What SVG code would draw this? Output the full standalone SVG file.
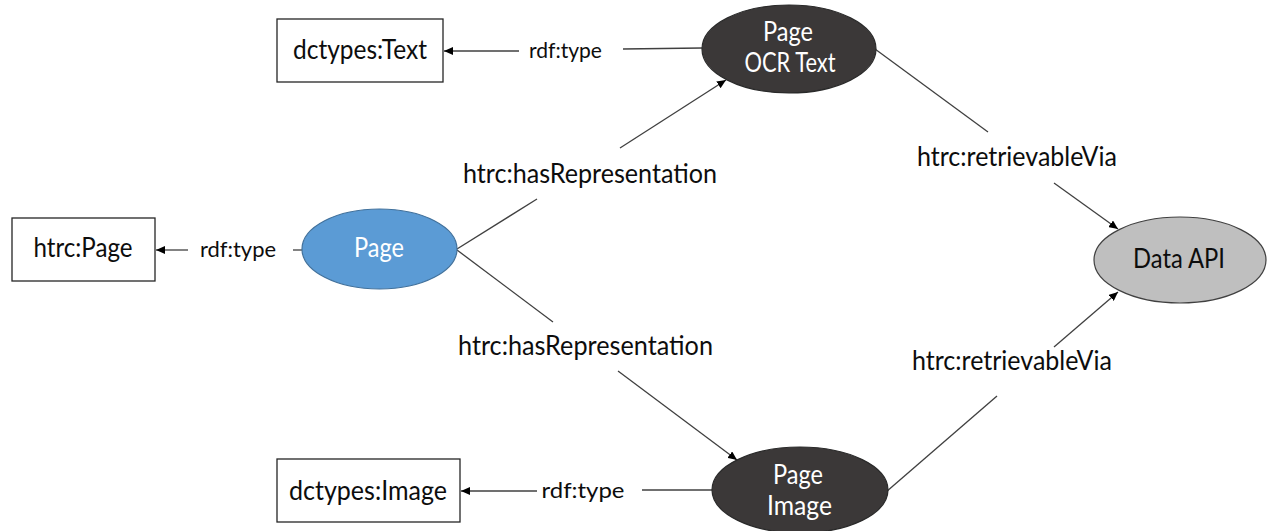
<svg xmlns="http://www.w3.org/2000/svg" width="1267" height="531" viewBox="0 0 1267 531">
<defs>
<marker id="arr" markerUnits="userSpaceOnUse" markerWidth="10" markerHeight="8" refX="9" refY="4" orient="auto">
<path d="M0,0 L9,4 L0,8 z" fill="#000"/>
</marker>
<style>
.box{fill:#fff;stroke:#262626;stroke-width:1.3}
.dark{fill:#3b3838;stroke:#2a2a2a;stroke-width:1.2}
.blue{fill:#5b9bd5;stroke:#41719c;stroke-width:1.2}
.grey{fill:#bfbfbf;stroke:#404040;stroke-width:1.2}
.t{font-family:Lato,"Open Sans","Liberation Sans",sans-serif;fill:#0d0d0d;text-anchor:middle}
.w{fill:#fff}
.c{stroke:#404040;stroke-width:1.3;fill:none}
.a{marker-end:url(#arr)}
</style>
</defs>
<rect width="1267" height="531" fill="#fff"/>
<g id="connectors">
<line class="c" x1="702" y1="48" x2="623" y2="49"/>
<line class="c a" x1="519" y1="51" x2="444" y2="51"/>
<text class="t" x="565.5" y="58" font-size="22" textLength="73" lengthAdjust="spacingAndGlyphs">rdf:type</text>
<line class="c" x1="302" y1="250" x2="293" y2="250"/>
<line class="c a" x1="188" y1="250" x2="156" y2="250"/>
<text class="t" x="238" y="257" font-size="22" textLength="76" lengthAdjust="spacingAndGlyphs">rdf:type</text>
<line class="c" x1="457" y1="249" x2="537" y2="199"/>
<line class="c a" x1="620" y1="148" x2="726" y2="80"/>
<text class="t" x="590" y="183" font-size="26" textLength="254" lengthAdjust="spacingAndGlyphs">htrc:hasRepresentation</text>
<line class="c" x1="457" y1="250" x2="553" y2="322"/>
<line class="c a" x1="618" y1="371" x2="737" y2="460"/>
<text class="t" x="585.5" y="355" font-size="26" textLength="255" lengthAdjust="spacingAndGlyphs">htrc:hasRepresentation</text>
<line class="c" x1="712" y1="490" x2="642" y2="490"/>
<line class="c a" x1="537" y1="491" x2="461" y2="491"/>
<text class="t" x="583" y="498" font-size="22" textLength="83" lengthAdjust="spacingAndGlyphs">rdf:type</text>
<line class="c" x1="875" y1="49" x2="988" y2="132"/>
<line class="c a" x1="1054" y1="183" x2="1118" y2="229"/>
<text class="t" x="1017" y="166" font-size="26" textLength="200" lengthAdjust="spacingAndGlyphs">htrc:retrievableVia</text>
<line class="c" x1="886" y1="492" x2="997" y2="396"/>
<line class="c a" x1="1054" y1="347" x2="1118" y2="292"/>
<text class="t" x="1012" y="370" font-size="26" textLength="200" lengthAdjust="spacingAndGlyphs">htrc:retrievableVia</text>
</g>
<g id="dctypes-text">
<rect class="box" x="277" y="19" width="166" height="63"/>
<text class="t" x="360" y="59" font-size="26" textLength="134" lengthAdjust="spacingAndGlyphs">dctypes:Text</text>
</g>
<g id="page-ocr-text">
<ellipse class="dark" cx="789" cy="49" rx="87" ry="44"/>
<text class="t w" x="788" y="41" font-size="26" textLength="50" lengthAdjust="spacingAndGlyphs">Page</text>
<text class="t w" x="790" y="72" font-size="26" textLength="91" lengthAdjust="spacingAndGlyphs">OCR Text</text>
</g>
<g id="htrc-page">
<rect class="box" x="12" y="218" width="143" height="63"/>
<text class="t" x="83" y="257" font-size="26" textLength="99" lengthAdjust="spacingAndGlyphs">htrc:Page</text>
</g>
<g id="page">
<ellipse class="blue" cx="379.5" cy="249" rx="77.5" ry="40"/>
<text class="t w" x="379" y="257" font-size="26" textLength="50" lengthAdjust="spacingAndGlyphs">Page</text>
</g>
<g id="data-api">
<ellipse class="grey" cx="1180" cy="260" rx="86" ry="43"/>
<text class="t" x="1179" y="268" font-size="26" textLength="92" lengthAdjust="spacingAndGlyphs">Data API</text>
</g>
<g id="dctypes-image">
<rect class="box" x="277" y="459" width="183" height="63"/>
<text class="t" x="368" y="500" font-size="26" textLength="158" lengthAdjust="spacingAndGlyphs">dctypes:Image</text>
</g>
<g id="page-image">
<ellipse class="dark" cx="800" cy="490" rx="88" ry="43"/>
<text class="t w" x="798" y="484" font-size="26" textLength="50" lengthAdjust="spacingAndGlyphs">Page</text>
<text class="t w" x="799.5" y="515" font-size="26" textLength="65" lengthAdjust="spacingAndGlyphs">Image</text>
</g>
</svg>
